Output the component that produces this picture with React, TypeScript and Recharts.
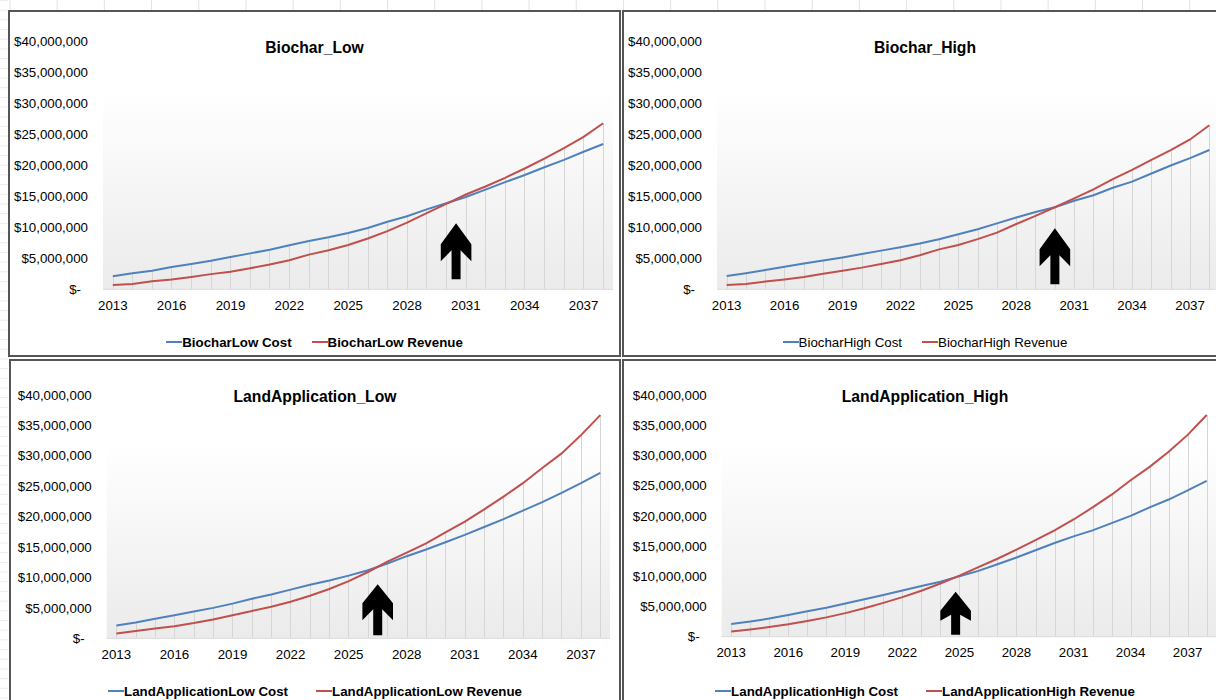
import React from 'react'
import {
	ComposedChart,
	Line,
	Bar,
	XAxis,
	YAxis,
	CartesianGrid,
	ReferenceDot,
} from 'recharts'

const FONT = '"Liberation Sans", Arial, sans-serif'

// years on the category axis and the labelled ones
const years = [
	2013, 2014, 2015, 2016, 2017, 2018, 2019, 2020, 2021, 2022, 2023, 2024, 2025,
	2026, 2027, 2028, 2029, 2030, 2031, 2032, 2033, 2034, 2035, 2036, 2037, 2038,
]
const yearTicks = [2013, 2016, 2019, 2022, 2025, 2028, 2031, 2034, 2037]
// value axis, in $ millions
const moneyTicks = [0, 5, 10, 15, 20, 25, 30, 35, 40]

// all series in $ millions
const biocharLowCost = [
	2.1, 2.6, 3.0, 3.6, 4.1, 4.6, 5.2, 5.8, 6.4, 7.1, 7.8, 8.4, 9.1, 9.9, 10.9,
	11.8, 12.9, 13.9, 14.9, 16.1, 17.3, 18.45, 19.7, 20.9, 22.2, 23.45,
]
const biocharLowRevenue = [
	0.7, 0.85, 1.3, 1.6, 2.0, 2.45, 2.85, 3.4, 4.0, 4.7, 5.6, 6.3, 7.15, 8.2, 9.4,
	10.75, 12.3, 13.8, 15.3, 16.6, 18.0, 19.5, 21.1, 22.8, 24.6, 26.8,
]
const biocharHighCost = [
	2.15, 2.6, 3.1, 3.65, 4.15, 4.65, 5.15, 5.7, 6.25, 6.8, 7.4, 8.1, 8.9, 9.7,
	10.65, 11.6, 12.5, 13.25, 14.3, 15.2, 16.4, 17.4, 18.7, 20.0, 21.2, 22.5,
]
const biocharHighRevenue = [
	0.7, 0.85, 1.25, 1.6, 2.0, 2.5, 3.0, 3.5, 4.1, 4.7, 5.5, 6.45, 7.15, 8.1, 9.15,
	10.55, 11.85, 13.25, 14.7, 16.15, 17.8, 19.3, 20.9, 22.5, 24.2, 26.5,
]
const landLowCost = [
	2.1, 2.6, 3.2, 3.8, 4.4, 5.0, 5.7, 6.5, 7.2, 8.0, 8.8, 9.5, 10.3, 11.2, 12.3,
	13.5, 14.6, 15.8, 17.0, 18.3, 19.6, 21.0, 22.4, 23.9, 25.5, 27.2,
]
const landLowRevenue = [
	0.8, 1.2, 1.6, 2.0, 2.5, 3.1, 3.8, 4.5, 5.2, 6.0, 7.0, 8.1, 9.4, 10.9, 12.6,
	14.1, 15.6, 17.4, 19.2, 21.2, 23.3, 25.5, 28.0, 30.4, 33.4, 36.7,
]
const landHighCost = [
	2.1, 2.5, 3.0, 3.6, 4.2, 4.8, 5.5, 6.2, 6.9, 7.65, 8.4, 9.1, 10.0, 10.9, 12.0,
	13.1, 14.3, 15.5, 16.6, 17.6, 18.8, 20.0, 21.4, 22.7, 24.2, 25.8,
]
const landHighRevenue = [
	0.85, 1.2, 1.6, 2.05, 2.6, 3.2, 3.9, 4.7, 5.6, 6.55, 7.6, 8.8, 10.1, 11.5, 12.9,
	14.4, 16.0, 17.6, 19.4, 21.4, 23.5, 25.9, 28.1, 30.6, 33.4, 36.7,
]

// break-even arrows: year and value of the arrow tip
const arrowYears = [2030.5, 2030, 2026.5, 2024.8]
const arrowTips = [10.65, 9.85, 8.9, 7.45]

const COST_COLOR = '#4f81bd'
const REVENUE_COLOR = '#c0504d'

// x axis band (recharts adds its 30px height to the bottom margin)
const X_AXIS_HEIGHT = 30

const panels = [
	{
		title: 'Biochar_Low',
		costName: 'BiocharLow Cost',
		revenueName: 'BiocharLow Revenue',
		cost: biocharLowCost,
		revenue: biocharLowRevenue,
		box: { left: 8, top: 10, width: 613, height: 347 },
		margin: { top: 31.5, right: 8, bottom: 67.7 - X_AXIS_HEIGHT, left: 15 },
		legendBold: true,
		legendGap: 20,
		arrow: { len: 56, barbTop: 21, barbBottom: 38, joint: 27 },
	},
	{
		title: 'Biochar_High',
		costName: 'BiocharHigh Cost',
		revenueName: 'BiocharHigh Revenue',
		cost: biocharHighCost,
		revenue: biocharHighRevenue,
		box: { left: 622, top: 10, width: 606, height: 347 },
		margin: { top: 31.7, right: 9, bottom: 67.7 - X_AXIS_HEIGHT, left: 15 },
		legendBold: false,
		legendGap: 20,
		arrow: { len: 56, barbTop: 21, barbBottom: 38, joint: 27 },
	},
	{
		title: 'LandApplication_Low',
		costName: 'LandApplicationLow Cost',
		revenueName: 'LandApplicationLow Revenue',
		cost: landLowCost,
		revenue: landLowRevenue,
		box: { left: 9, top: 359, width: 612, height: 345 },
		margin: { top: 36, right: 11, bottom: 65.7 - X_AXIS_HEIGHT, left: 17.7 },
		legendBold: true,
		legendGap: 28,
		arrow: { len: 51, barbTop: 19, barbBottom: 36, joint: 25 },
	},
	{
		title: 'LandApplication_High',
		costName: 'LandApplicationHigh Cost',
		revenueName: 'LandApplicationHigh Revenue',
		cost: landHighCost,
		revenue: landHighRevenue,
		box: { left: 622, top: 359, width: 606, height: 345 },
		margin: { top: 36, right: 11.8, bottom: 67.3 - X_AXIS_HEIGHT, left: 19.7 },
		legendBold: true,
		legendGap: 28,
		arrow: { len: 43, barbTop: 19, barbBottom: 29, joint: 23 },
	},
]

const money = (v: number) =>
	v === 0 ? '$-' : '$' + Math.round(v * 1e6).toLocaleString('en-US')

const YTick = ({ x, y, payload }: any) => (
	<text
		x={payload.value === 0 ? x - 7 : x}
		y={y}
		dy='0.35em'
		textAnchor='end'
		fontSize={13.3}
		fontFamily={FONT}
		fill='#000'
	>
		{money(payload.value)}
	</text>
)

const XTick = ({ x, y, payload }: any) => (
	<text
		x={x}
		y={y}
		dy='0.71em'
		textAnchor='middle'
		fontSize={13.3}
		fontFamily={FONT}
		fill='#000'
	>
		{payload.value}
	</text>
)

// drop line from the axis up to the higher series
const DropLine = (props: any) => {
	const { x, y, width, height } = props
	if (height == null || isNaN(height)) return null
	const cx = Math.round(x + width / 2) + 0.5
	return <line x1={cx} x2={cx} y1={y} y2={y + height} stroke='#d6d6d6' strokeWidth={1} />
}

const makeArrow = (a: { len: number; barbTop: number; barbBottom: number; joint: number }) =>
	(props: any) => {
		const { cx, cy } = props
		const h = 15.3
		const s = 4.5
		const pts = [
			[0, 0],
			[h, a.barbTop],
			[h, a.barbBottom],
			[s, a.joint],
			[s, a.len],
			[-s, a.len],
			[-s, a.joint],
			[-h, a.barbBottom],
			[-h, a.barbTop],
		]
			.map(([dx, dy]) => `${cx + dx},${cy + dy}`)
			.join(' ')
		return <polygon points={pts} fill='#000' />
	}

function Panel({ p, i }: { p: (typeof panels)[number]; i: number }) {
	const data = years.map((year, k) => ({
		year,
		cost: p.cost[k],
		revenue: p.revenue[k],
		drop: Math.max(p.cost[k], p.revenue[k]),
	}))
	const { left, top, width, height } = p.box
	return (
		<div style={{ position: 'absolute', left, top, width, height, background: '#fff' }}>
			<ComposedChart width={width} height={height} data={data} margin={p.margin}>
				<CartesianGrid horizontal={false} vertical={false} fill='url(#plotShade)' />
				<XAxis
					dataKey='year'
					type='number'
					domain={[2012.5, 2038.5]}
					ticks={yearTicks}
					interval={0}
					height={X_AXIS_HEIGHT}
					tickSize={0}
					tickMargin={11}
					tickLine={false}
					axisLine={{ stroke: '#d9d9d9' }}
					tick={<XTick />}
				/>
				<YAxis
					type='number'
					domain={[0, 40]}
					ticks={moneyTicks}
					interval={0}
					width={80}
					tickSize={0}
					tickMargin={15}
					tickLine={false}
					axisLine={false}
					tick={<YTick />}
				/>
				<Bar dataKey='drop' barSize={1} shape={DropLine} isAnimationActive={false} />
				<Line
					dataKey='cost'
					name={p.costName}
					type='linear'
					stroke={COST_COLOR}
					strokeWidth={2}
					dot={false}
					isAnimationActive={false}
				/>
				<Line
					dataKey='revenue'
					name={p.revenueName}
					type='linear'
					stroke={REVENUE_COLOR}
					strokeWidth={2}
					dot={false}
					isAnimationActive={false}
				/>
				<ReferenceDot
					x={arrowYears[i]}
					y={arrowTips[i]}
					r={0}
					shape={makeArrow(p.arrow)}
				/>
			</ComposedChart>
			<div
				style={{
					position: 'absolute',
					left: 0,
					top: 28,
					width,
					height: 20,
					lineHeight: '20px',
					textAlign: 'center',
					fontFamily: FONT,
					fontWeight: 700,
					fontSize: 15.7,
					color: '#000',
				}}
			>
				{p.title}
			</div>
			<div
				style={{
					position: 'absolute',
					left: 0,
					top: 323,
					width,
					height: 18,
					display: 'flex',
					justifyContent: 'center',
					alignItems: 'center',
					gap: p.legendGap,
					fontFamily: FONT,
					fontSize: 13.3,
					fontWeight: p.legendBold ? 700 : 400,
					color: '#000',
					whiteSpace: 'nowrap',
				}}
			>
				{[
					{ name: p.costName, color: COST_COLOR },
					{ name: p.revenueName, color: REVENUE_COLOR },
				].map((it) => (
					<span key={it.name} style={{ display: 'flex', alignItems: 'center' }}>
						<span style={{ display: 'inline-block', width: 16, height: 2, background: it.color }} />
						{it.name}
					</span>
				))}
			</div>
			<div
				style={{
					position: 'absolute',
					inset: 0,
					border: '2px solid #555',
					boxSizing: 'border-box',
					pointerEvents: 'none',
				}}
			/>
		</div>
	)
}

export default function App() {
	return (
		<div
			style={{
				position: 'absolute',
				left: 0,
				top: 0,
				width: 1216,
				height: 700,
				overflow: 'hidden',
				background: '#fff',
			}}
		>
			<svg width={0} height={0} style={{ position: 'absolute' }}>
				<defs>
					<linearGradient id='plotShade' x1='0' y1='0' x2='0' y2='1'>
						<stop offset='0' stopColor='#ffffff' />
						<stop offset='0.2' stopColor='#ffffff' />
						<stop offset='1' stopColor='#ebebeb' />
					</linearGradient>
				</defs>
			</svg>
			<div
				style={{
					position: 'absolute',
					left: 0,
					top: 0,
					width: 1216,
					height: 10,
					backgroundImage: 'linear-gradient(to right, #e2e2e2 1px, transparent 1px)',
					backgroundSize: '47.2px 100%',
					backgroundPosition: '9.5px 0',
				}}
			/>
			<div
				style={{
					position: 'absolute',
					left: 0,
					top: 0,
					width: 8,
					height: 700,
					backgroundImage: 'linear-gradient(to bottom, #ececec 1px, transparent 1px)',
					backgroundSize: '100% 9.7px',
				}}
			/>
			{panels.map((p, i) => (
				<Panel key={p.title} p={p} i={i} />
			))}
		</div>
	)
}
